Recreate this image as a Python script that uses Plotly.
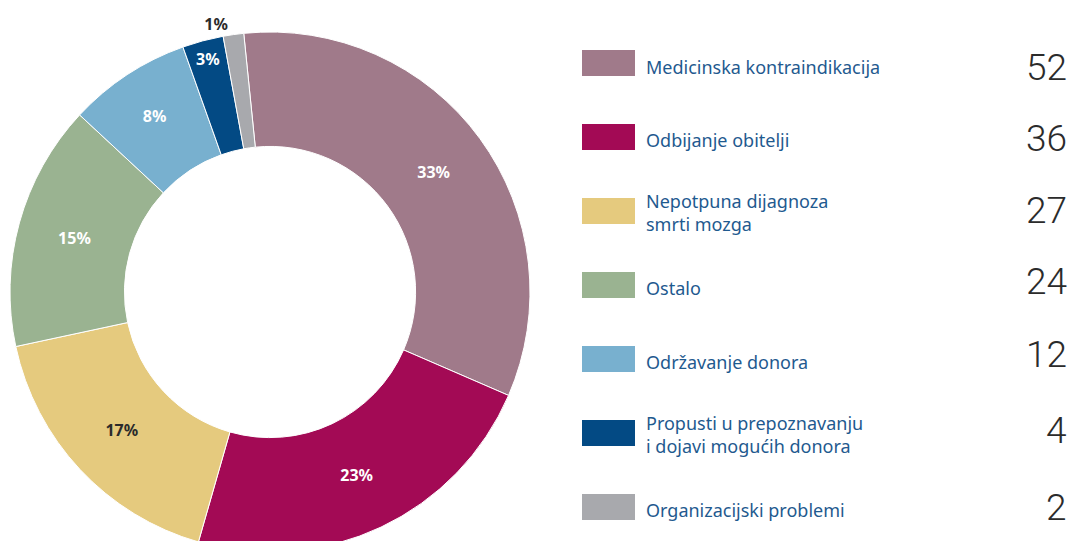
import plotly.graph_objects as go

categories = [
    "Medicinska kontraindikacija",
    "Odbijanje obitelji",
    "Nepotpuna dijagnoza<br>smrti mozga",
    "Ostalo",
    "Održavanje donora",
    "Propusti u prepoznavanju<br>i dojavi mogućih donora",
    "Organizacijski problemi",
]
values = [52, 36, 27, 24, 12, 4, 2]
colors = ["#A07A8A", "#A30A55", "#E5CA7E", "#9AB391", "#78B0CF", "#034A84", "#A8A9AD"]
text_colors = ["#FFFFFF", "#FFFFFF", "#2B2B2B", "#FFFFFF", "#FFFFFF", "#FFFFFF", "#2B2B2B"]
text_positions = ["inside"] * 6 + ["outside"]

W, H = 1072, 556
cx, cy, r = 270, 292, 260

def px(x):
    return x / W

def py(y):
    return 1 - y / H

fig = go.Figure()
fig.add_trace(go.Pie(
    labels=categories,
    values=values,
    sort=False,
    direction="clockwise",
    rotation=-5.8,
    hole=0.56,
    marker=dict(colors=colors, line=dict(color="#FFFFFF", width=1)),
    texttemplate="%{percent:.0%}",
    textposition=text_positions,
    insidetextorientation="horizontal",
    insidetextfont=dict(color=text_colors, size=16, family="Noto Sans", weight="bold"),
    outsidetextfont=dict(color=text_colors, size=16, family="Noto Sans", weight="bold"),
    domain=dict(x=[px(cx - r), px(cx + r)], y=[py(cy + r), py(cy - r)]),
    showlegend=False,
    hoverinfo="label+value+percent",
))

shapes = []
annotations = []
label_offsets = [4, 3, 1, 3, 3, 1, 3]
num_offsets = [4, 1, -1, -4, -5, -3, 0]
for i, (cat, val, col) in enumerate(zip(categories, values, colors)):
    yc = 63 + i * 74
    shapes.append(dict(type="rect", xref="paper", yref="paper",
                       x0=px(582), x1=px(635), y0=py(yc - 13), y1=py(yc + 13),
                       fillcolor=col, line=dict(width=0)))
    annotations.append(dict(xref="paper", yref="paper", x=px(644), y=py(yc + label_offsets[i]),
                            xanchor="left", yanchor="middle", align="left", showarrow=False,
                            text=cat, font=dict(family="Noto Sans", size=18, color="#1F5A8F")))
    annotations.append(dict(xref="paper", yref="paper", x=px(1069), y=py(yc + num_offsets[i]),
                            xanchor="right", yanchor="middle", align="right", showarrow=False,
                            text=str(val), font=dict(family="Roboto", size=37, color="#2B2B2B", weight=300)))

fig.update_layout(
    width=W, height=H,
    margin=dict(l=0, r=0, t=0, b=0),
    paper_bgcolor="#FFFFFF",
    plot_bgcolor="#FFFFFF",
    shapes=shapes,
    annotations=annotations,
)

fig.write_html(
    "out.html",
    config={"displayModeBar": False},
    post_script="document.body.style.margin='0';document.body.style.overflow='hidden';",
)
